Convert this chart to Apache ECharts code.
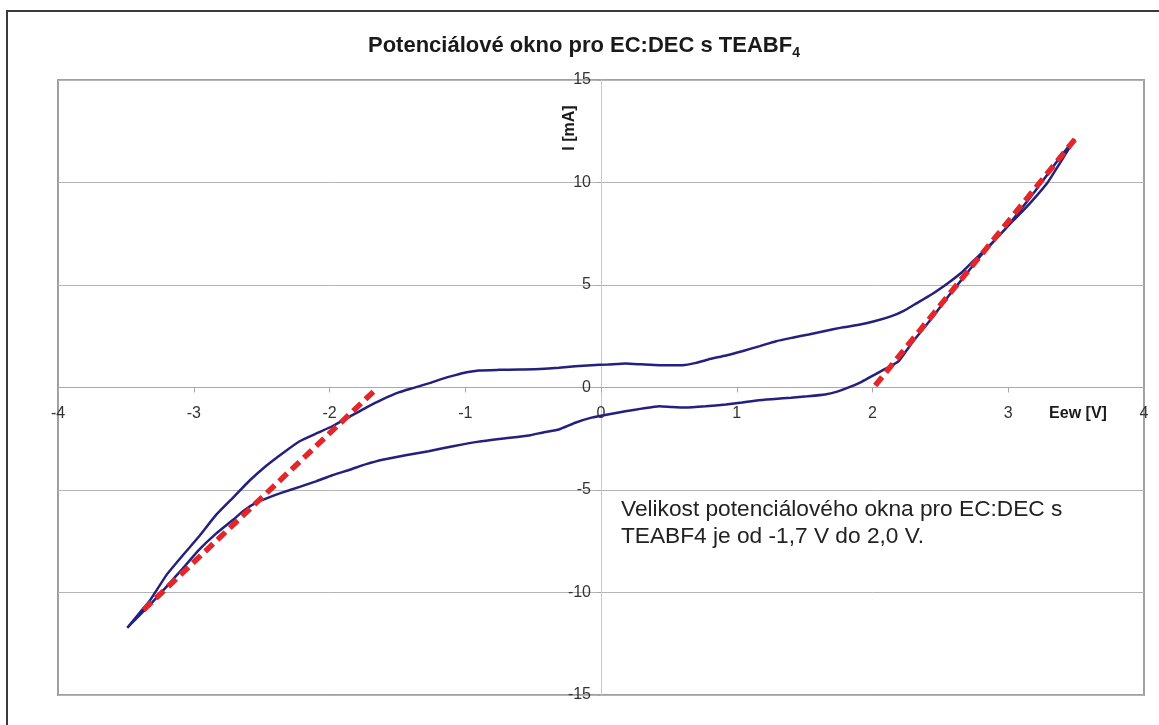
<!DOCTYPE html>
<html>
<head>
<meta charset="utf-8">
<script src="https://cdn.jsdelivr.net/npm/echarts@6/dist/echarts.min.js"></script>
<style>
html,body{margin:0;padding:0;background:#fff;}
#c{width:1159px;height:725px;}
</style>
</head>
<body>
<div id="c"></div>
<script>
// Forward (upper) branch: E [V], I [mA]
const upperE = [-3.49,-3.40,-3.32,-3.20,-3.08,-2.96,-2.84,-2.71,-2.59,-2.47,-2.34,-2.22,-2.10,-1.98,-1.85,-1.73,-1.61,-1.49,-1.38,-1.27,-1.17,-1.08,-0.99,-0.90,-0.75,-0.60,-0.45,-0.31,-0.19,-0.07,0.05,0.18,0.30,0.43,0.60,0.70,0.79,0.92,1.04,1.17,1.29,1.41,1.53,1.65,1.77,1.90,2.02,2.14,2.23,2.31,2.44,2.56,2.65,2.73,2.83,2.93,3.02,3.12,3.21,3.29,3.39,3.49];
const upperI = [-11.72,-11.00,-10.36,-9.14,-8.18,-7.26,-6.25,-5.37,-4.55,-3.84,-3.18,-2.62,-2.25,-1.89,-1.42,-0.98,-0.58,-0.24,-0.02,0.20,0.42,0.59,0.74,0.83,0.86,0.88,0.90,0.96,1.04,1.09,1.12,1.17,1.13,1.09,1.09,1.20,1.37,1.56,1.77,2.02,2.26,2.43,2.59,2.76,2.92,3.06,3.24,3.48,3.74,4.05,4.56,5.11,5.57,6.09,6.73,7.39,8.03,8.70,9.36,10.00,11.05,12.12];
// Reverse (lower) branch
const lowerE = [3.49,3.39,3.30,3.20,3.10,2.98,2.89,2.80,2.68,2.56,2.44,2.31,2.25,2.19,2.10,2.02,1.92,1.82,1.74,1.65,1.52,1.40,1.28,1.16,1.04,0.92,0.77,0.62,0.52,0.43,0.30,0.18,0.06,-0.07,-0.19,-0.31,-0.42,-0.53,-0.72,-0.90,-1.08,-1.27,-1.44,-1.61,-1.73,-1.85,-1.98,-2.10,-2.22,-2.35,-2.45,-2.54,-2.63,-2.71,-2.84,-2.96,-3.08,-3.20,-3.34,-3.49];
const lowerI = [12.12,11.30,10.49,9.60,8.75,7.75,7.10,6.45,5.45,4.46,3.40,2.34,1.80,1.27,0.93,0.64,0.28,-0.01,-0.20,-0.34,-0.43,-0.50,-0.56,-0.62,-0.73,-0.83,-0.92,-0.98,-0.95,-0.91,-1.03,-1.16,-1.30,-1.47,-1.72,-2.05,-2.18,-2.34,-2.49,-2.64,-2.85,-3.11,-3.30,-3.52,-3.74,-4.01,-4.28,-4.58,-4.85,-5.13,-5.37,-5.62,-6.00,-6.45,-7.15,-7.91,-8.82,-9.71,-10.72,-11.72];
// Linear fits (red dashed)
const fitLeftE = [-3.37,-1.66];
const fitLeftI = [-10.85,-0.10];
const fitRightE = [2.02,3.49];
const fitRightI = [0.10,12.10];
const xTicks = [-4,-3,-2,-1,0,1,2,3,4];
const yTicks = [-15,-10,-5,0,5,10,15];

const zip = (a,b)=>a.map((v,i)=>[v,b[i]]);
const loop = zip(upperE,upperI).concat(zip(lowerE,lowerI));

const chart = echarts.init(document.getElementById('c'), null, {renderer:'canvas'});
const font = 'Arial, "Liberation Sans", Helvetica, sans-serif';
const G = {left:58,right:15,top:80,bottom:30};
const gw = 1159-G.left-G.right, gh = 725-G.top-G.bottom;
chart.setOption({
  animation:false,
  backgroundColor:'#fff',
  textStyle:{fontFamily:font},
  grid:{left:G.left,right:G.right,top:G.top,bottom:G.bottom,show:true,borderColor:'#a0a0a0',borderWidth:2,backgroundColor:'transparent'},
  xAxis:{type:'value',min:xTicks[0],max:xTicks[xTicks.length-1],interval:1,
    position:'bottom',offset:-gh/2,
    axisLine:{onZero:false,lineStyle:{color:'#a8a8a8',width:1}},
    axisTick:{show:true,inside:false,length:5,lineStyle:{color:'#a8a8a8'}},
    axisLabel:{color:'#333',fontSize:16,margin:18,fontFamily:font,showMinLabel:true,showMaxLabel:true},
    splitLine:{show:false}},
  yAxis:{type:'value',min:yTicks[0],max:yTicks[yTicks.length-1],interval:5,
    position:'left',offset:-gw/2,
    axisLine:{onZero:false,lineStyle:{color:'#c8c8c8',width:1}},
    axisTick:{show:true,length:4,lineStyle:{color:'#a8a8a8'}},
    axisLabel:{color:'#333',fontSize:16,margin:10,fontFamily:font,showMinLabel:true,showMaxLabel:true},
    splitLine:{show:true,lineStyle:{color:'#b4b4b4',width:1}}},
  series:[
    {type:'line',data:loop,showSymbol:false,symbol:'none',smooth:0.15,lineStyle:{color:'#24207f',width:2.5},z:3},
    {type:'line',data:zip(fitLeftE,fitLeftI),showSymbol:false,symbol:'none',lineStyle:{color:'#e2262a',width:5.5,type:[11,6]},z:4},
    {type:'line',data:zip(fitRightE,fitRightI),showSymbol:false,symbol:'none',lineStyle:{color:'#e2262a',width:5.5,type:[11,6]},z:4}
  ],
  graphic:[
    {type:'rect',shape:{x:7,y:11,width:1200,height:800},style:{fill:'none',stroke:'#3a3a3a',lineWidth:2},z:-10,silent:true},
    {type:'text',x:368,y:32,style:{
      rich:{a:{fontSize:22,fontWeight:'bold',fill:'#1a1a1a',fontFamily:font,lineHeight:28},
            s:{fontSize:14,fontWeight:'bold',fill:'#1a1a1a',fontFamily:font,verticalAlign:'bottom',lineHeight:20}},
      text:'{a|Potenciálové okno pro EC:DEC s TEABF}{s|4}'}},
    {type:'text',x:570,y:128,rotation:Math.PI/2,style:{text:'I [mA]',fontSize:16,fontWeight:'bold',fill:'#1a1a1a',fontFamily:font,textAlign:'center',textVerticalAlign:'middle'}},
    {type:'text',x:1078,y:414,style:{text:'Eew [V]',fontSize:16,fontWeight:'bold',fill:'#1a1a1a',fontFamily:font,textAlign:'center',textVerticalAlign:'middle'}},
    {type:'text',x:621,y:496,style:{text:'Velikost potenciálového okna pro EC:DEC s\nTEABF4 je od -1,7 V do 2,0 V.',fontSize:22.7,lineHeight:27,fill:'#222',fontFamily:font,textAlign:'left',textVerticalAlign:'top'}}
  ]
});
</script>
</body>
</html>
